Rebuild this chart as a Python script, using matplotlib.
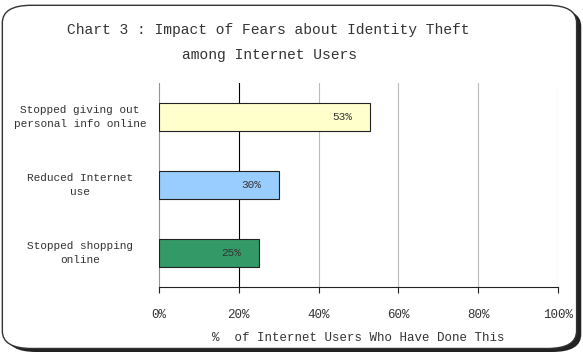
import matplotlib.pyplot as plt
from matplotlib.patches import FancyBboxPatch

categories = ['Stopped giving out\npersonal info online', 'Reduced Internet\nuse', 'Stopped shopping\nonline']
values = [53, 30, 25]
bar_colors = ['#FFFFCC', '#99CCFF', '#339966']
ticks = [0, 20, 40, 60, 80, 100]
tick_labels = ['0%', '20%', '40%', '60%', '80%', '100%']

FONT = 'Liberation Mono'
TXT = '#333333'

fig = plt.figure(figsize=(5.83, 3.52), dpi=100)

# rounded frame with shadow
shadow = FancyBboxPatch((0.012, 0.0), 0.985, 0.975, boxstyle='round,pad=0,rounding_size=0.05',
                        transform=fig.transFigure, facecolor='#222222', edgecolor='none', zorder=0)
frame = FancyBboxPatch((0.004, 0.01), 0.985, 0.975, boxstyle='round,pad=0,rounding_size=0.05',
                       transform=fig.transFigure, facecolor='white', edgecolor='#333333', lw=1.0, zorder=1)
fig.patches.extend([shadow, frame])

ax = fig.add_axes([159 / 583, 1 - 287 / 352, (558 - 159) / 583, (287 - 83) / 352])
ax.set_zorder(2)
ax.patch.set_alpha(0)

y = list(range(len(categories)))[::-1]
ax.barh(y, values, height=0.4, color=bar_colors, edgecolor='#222222', linewidth=0.8, zorder=3)
for yi, v in zip(y, values):
    ax.text(v - 4.5, yi, f'{v}%', ha='right', va='center', fontsize=8, family=FONT, color=TXT, zorder=4)

ax.set_xlim(0, 100)
ax.set_ylim(-0.5, 2.5)
ax.set_xticks(ticks)
ax.set_xticklabels(tick_labels, family=FONT, fontsize=9, color=TXT)
ax.set_yticks([])
ax.tick_params(axis='x', length=4, color='#222222', pad=12)

# category labels, centred in the space left of the plot
for yi, c in zip(y, categories):
    ax.text(-0.198, yi, c, transform=ax.get_yaxis_transform(), ha='center', va='center',
            family=FONT, fontsize=8, color=TXT, linespacing=1.5)

for xv in ticks[1:]:
    ax.axvline(xv, color='#000000' if xv == 20 else '#BBBBBB', lw=0.8, zorder=1)

for s in ['top', 'right']:
    ax.spines[s].set_visible(False)
ax.spines['left'].set_color('#999966')
ax.spines['left'].set_linewidth(0.8)
ax.spines['bottom'].set_color('#222222')

ax.set_xlabel('%  of Internet Users Who Have Done This', family=FONT, fontsize=9, color=TXT, labelpad=8)

fig.text(268 / 583, 1 - 30 / 352, 'Chart 3 : Impact of Fears about Identity Theft', ha='center', va='center',
         family=FONT, fontsize=10.5, color=TXT)
fig.text(270 / 583, 1 - 55 / 352, 'among Internet Users', ha='center', va='center',
         family=FONT, fontsize=10.5, color=TXT)

fig.savefig('out.png', dpi=100)
